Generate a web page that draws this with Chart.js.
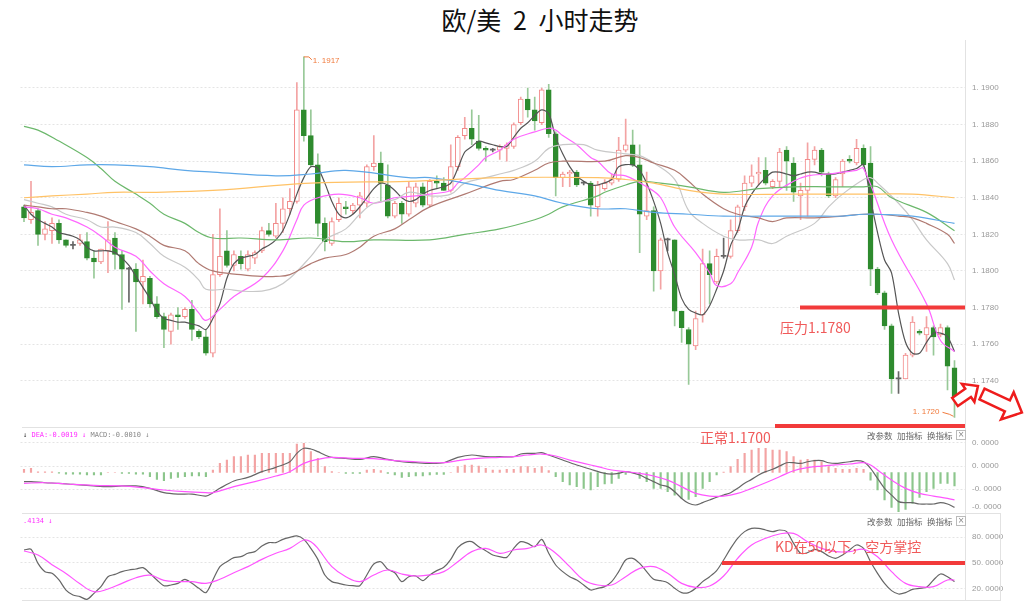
<!DOCTYPE html>
<html lang="zh-CN">
<head>
<meta charset="utf-8">
<title>欧/美 2 小时走势</title>
<script src="https://cdn.jsdelivr.net/npm/chart.js@4.4.1/dist/chart.umd.min.js"></script>
<style>
  html, body { margin: 0; padding: 0; background: #fff; }
  #page { position: relative; width: 1024px; height: 607px; overflow: hidden;
          font-family: "Noto Sans CJK SC", "Noto Sans", sans-serif; }
  canvas { position: absolute; left: 0; }
  .abs { position: absolute; white-space: nowrap; }
  .title { left: 0; width: 1080px; top: 3px; text-align: center; font-size: 25px; line-height: 32px; color: #111; word-spacing: 6px; }
  .note { font-size: 14px; line-height: 18px; color: #f05a5a; }
  .tip { font: 7px "DejaVu Sans Mono", monospace; line-height: 10px; }
  .menu { font-size: 8.5px; line-height: 10px; color: #666; }
  .box { width: 8px; height: 8px; border: 1px solid #bbb; font: 8px "DejaVu Sans"; line-height: 8px; text-align: center; color: #888; }
  .sep { background: #e2e2e2; }
</style>
</head>
<body>
<div id="page">
  <div class="abs title">欧/美 2 小时走势</div>

  <canvas id="main" width="1024" height="388" style="top:40px"></canvas>
  <canvas id="macd" width="1024" height="84" style="top:428px"></canvas>
  <canvas id="kd" width="1024" height="87" style="top:513px"></canvas>

  <!-- 分隔线 -->
  <div class="abs sep" style="left:965px; top:40px; width:1px; height:561px"></div>
  <div class="abs sep" style="left:22px; top:427px; width:943px; height:1px"></div>
  <div class="abs sep" style="left:22px; top:513px; width:978px; height:1px"></div>
  <div class="abs sep" style="left:22px; top:600px; width:978px; height:1px"></div>
  <div class="abs sep" style="left:1000px; top:513px; width:1px; height:88px"></div>

  <!-- 指标标题 -->
  <div class="abs tip" style="left:23px; top:430px">
    <span style="color:#333">↓</span> <span style="color:#ff33ff">DEA:-0.0019 ↓</span> <span style="color:#888">MACD:-0.0010 ↓</span>
  </div>
  <div class="abs tip" style="left:23px; top:516px; color:#ff33ff">.4134 ↓</div>

  <div class="abs menu" style="left:867px; top:430px">改参数</div>
  <div class="abs menu" style="left:897px; top:430px">加指标</div>
  <div class="abs menu" style="left:927px; top:430px">换指标</div>
  <div class="abs box" style="left:956px; top:430px">×</div>
  <div class="abs menu" style="left:867px; top:516px">改参数</div>
  <div class="abs menu" style="left:897px; top:516px">加指标</div>
  <div class="abs menu" style="left:927px; top:516px">换指标</div>
  <div class="abs box" style="left:956px; top:516px">×</div>

  <!-- 标注 -->
  <div class="abs" style="left:775px; top:424px; width:190px; height:4px; background:#f23a3a"></div>
  <div class="abs note" style="left:780px; top:318px">压力1.1780</div>
  <div class="abs note" style="left:700px; top:428px">正常1.1700</div>
  <div class="abs note" style="left:775px; top:537px">KD在50以下，空方掌控</div>

  <svg class="abs" style="left:0; top:0" width="1024" height="607">
    <polygon points="0,-5 16,-5 16,-11 28,0 16,11 16,5 0,5" transform="translate(955,402) rotate(-35)"
             fill="#fff" stroke="#ee1c1c" stroke-width="2.5" stroke-linejoin="miter"/>
    <polygon points="0,-6 28,-6 28,-15 44,0 28,15 28,6 0,6" transform="translate(982,394) rotate(25)"
             fill="#fff" stroke="#ee1c1c" stroke-width="2.5" stroke-linejoin="miter"/>
  </svg>
</div>

<script>
// ===== K线数据（2小时，134根） =====
const opens = [
  1.1835,1.1828,1.1833,1.1820,1.1822,1.1826,1.1817,1.1814,1.1815,1.1816,
  1.1807,1.1805,1.1811,1.1818,1.1809,1.1801,1.1801,1.1794,1.1796,1.1782,
  1.1775,1.1767,1.1776,1.1775,1.1779,1.1767,1.1764,1.1755,1.1798,1.1811,
  1.1803,1.1808,1.1801,1.1807,1.1811,1.1822,1.1819,1.1826,1.1834,1.1838,
  1.1888,1.1874,1.1858,1.1826,1.1815,1.1828,1.1835,1.1833,1.1836,1.1837,
  1.1857,1.1859,1.1847,1.1830,1.1837,1.1831,1.1837,1.1846,1.1836,1.1849,
  1.1848,1.1844,1.1857,1.1874,1.1878,1.1871,1.1867,1.1866,1.1866,1.1867,
  1.1868,1.1881,1.1894,1.1888,1.1881,1.1899,1.1875,1.1851,1.1853,1.1854,
  1.1848,1.1848,1.1835,1.1845,1.1848,1.1850,1.1866,1.1869,1.1858,1.1830,
  1.1833,1.1800,1.1817,1.1817,1.1778,1.1768,1.1759,1.1776,1.1804,1.1794,
  1.1808,1.1808,1.1822,1.1835,1.1848,1.1853,1.1855,1.1846,1.1849,1.1866,
  1.1859,1.1841,1.1844,1.1861,1.1866,1.1853,1.1841,1.1853,1.1861,1.1859,
  1.1867,1.1859,1.1801,1.1788,1.1770,1.1741,1.1741,1.1754,1.1767,1.1765,
  1.1769,1.1765,1.1769,1.1747
];
const highs = [
  1.1836,1.1849,1.1834,1.1827,1.1829,1.1828,1.1817,1.1816,1.1820,1.1821,
  1.1811,1.1812,1.1827,1.1821,1.1811,1.1802,1.1804,1.1806,1.1797,1.1786,
  1.1777,1.1777,1.1780,1.1780,1.1784,1.1768,1.1768,1.1820,1.1834,1.1822,
  1.1811,1.1811,1.1811,1.1811,1.1824,1.1826,1.1837,1.1840,1.1845,1.1903,
  1.1917,1.1888,1.1864,1.1829,1.1829,1.1840,1.1838,1.1837,1.1843,1.1858,
  1.1874,1.1865,1.1858,1.1838,1.1838,1.1849,1.1848,1.1848,1.1850,1.1852,
  1.1851,1.1869,1.1874,1.1884,1.1888,1.1885,1.1868,1.1867,1.1869,1.1870,
  1.1881,1.1895,1.1900,1.1895,1.1900,1.1902,1.1876,1.1854,1.1855,1.1855,
  1.1849,1.1849,1.1849,1.1850,1.1853,1.1873,1.1883,1.1877,1.1869,1.1854,
  1.1835,1.1818,1.1818,1.1817,1.1778,1.1769,1.1778,1.1812,1.1811,1.1812,
  1.1818,1.1828,1.1836,1.1852,1.1858,1.1862,1.1862,1.1850,1.1867,1.1868,
  1.1862,1.1848,1.1870,1.1868,1.1867,1.1854,1.1851,1.1861,1.1863,1.1872,
  1.1869,1.1868,1.1802,1.1789,1.1771,1.1745,1.1755,1.1775,1.1768,1.1775,
  1.1770,1.1771,1.1770,1.1751
];
const lows = [
  1.1827,1.1826,1.1814,1.1817,1.1815,1.1815,1.1813,1.1812,1.1814,1.1806,
  1.1796,1.1804,1.1799,1.1801,1.1779,1.1783,1.1767,1.1782,1.1780,1.1774,
  1.1758,1.1760,1.1768,1.1774,1.1762,1.1763,1.1754,1.1753,1.1797,1.1802,
  1.1800,1.1801,1.1800,1.1804,1.1810,1.1819,1.1818,1.1821,1.1831,1.1837,
  1.1871,1.1857,1.1819,1.1811,1.1814,1.1827,1.1831,1.1831,1.1829,1.1835,
  1.1855,1.1838,1.1829,1.1829,1.1826,1.1830,1.1835,1.1835,1.1835,1.1845,
  1.1844,1.1843,1.1855,1.1872,1.1869,1.1866,1.1860,1.1865,1.1861,1.1860,
  1.1867,1.1880,1.1884,1.1877,1.1880,1.1873,1.1841,1.1846,1.1846,1.1846,
  1.1847,1.1830,1.1830,1.1844,1.1847,1.1849,1.1865,1.1857,1.1810,1.1828,
  1.1789,1.1790,1.1811,1.1770,1.1761,1.1738,1.1757,1.1772,1.1782,1.1793,
  1.1807,1.1807,1.1821,1.1833,1.1846,1.1847,1.1847,1.1845,1.1846,1.1844,
  1.1838,1.1828,1.1830,1.1858,1.1852,1.1840,1.1840,1.1846,1.1859,1.1858,
  1.1857,1.1792,1.1787,1.1768,1.1733,1.1733,1.1741,1.1753,1.1765,1.1756,
  1.1754,1.1764,1.1735,1.1720
];
const closes = [
  1.1829,1.1832,1.1820,1.1823,1.1826,1.1817,1.1814,1.1814,1.1817,1.1807,
  1.1805,1.1812,1.1817,1.1809,1.1801,1.1801,1.1794,1.1797,1.1782,1.1775,
  1.1768,1.1776,1.1775,1.1779,1.1768,1.1764,1.1755,1.1798,1.1808,1.1803,
  1.1809,1.1804,1.1809,1.1810,1.1822,1.1820,1.1826,1.1834,1.1838,1.1888,
  1.1874,1.1858,1.1826,1.1816,1.1827,1.1837,1.1834,1.1836,1.1841,1.1857,
  1.1859,1.1848,1.1830,1.1837,1.1831,1.1846,1.1846,1.1836,1.1849,1.1848,
  1.1844,1.1857,1.1873,1.1878,1.1872,1.1867,1.1866,1.1866,1.1868,1.1869,
  1.1880,1.1894,1.1888,1.1882,1.1899,1.1875,1.1851,1.1853,1.1854,1.1847,
  1.1848,1.1836,1.1847,1.1848,1.1850,1.1866,1.1869,1.1858,1.1831,1.1833,
  1.1800,1.1817,1.1817,1.1778,1.1769,1.1760,1.1774,1.1804,1.1798,1.1808,
  1.1808,1.1822,1.1835,1.1848,1.1852,1.1854,1.1848,1.1849,1.1865,1.1860,
  1.1843,1.1844,1.1861,1.1866,1.1854,1.1841,1.1850,1.1860,1.1860,1.1867,
  1.1858,1.1801,1.1788,1.1770,1.1741,1.1741,1.1754,1.1772,1.1766,1.1769,
  1.1764,1.1769,1.1748,1.1731
];

// ===== 均线 [K线序号, 价格] =====
const ma5 = [
  [0,1.1836],[1,1.1831],[2,1.1828],[3,1.1826],[4,1.1824],[5,1.1821],[6,1.1820],[7,1.1819],[8,1.1817],[9,1.1813],
  [10,1.1811],[11,1.1811],[12,1.1811],[13,1.1810],[14,1.1807],[15,1.1803],[16,1.1797],[17,1.1791],[18,1.1785],[19,1.1778],
  [20,1.1774],[21,1.1773],[22,1.1772],[23,1.1772],[24,1.1771],[25,1.1770],[26,1.1768],[27,1.1774],[28,1.1782],[29,1.1796],
  [30,1.1804],[31,1.1807],[32,1.1808],[33,1.1809],[34,1.1812],[35,1.1814],[36,1.1817],[37,1.1822],[38,1.1831],[39,1.1842],
  [40,1.1851],[41,1.1857],[42,1.1856],[43,1.1848],[44,1.1838],[45,1.1831],[46,1.1829],[47,1.1831],[48,1.1835],[49,1.1840],
  [50,1.1845],[51,1.1848],[52,1.1847],[53,1.1844],[54,1.1840],[55,1.1838],[56,1.1839],[57,1.1842],[58,1.1844],[60,1.1846],
  [61,1.1848],[62,1.1856],[63,1.1865],[64,1.1868],[65,1.1871],[66,1.1870],[67,1.1869],[68,1.1868],[69,1.1868],[70,1.1873],
  [71,1.1878],[72,1.1881],[73,1.1885],[74,1.1888],[75,1.1886],[76,1.1873],[77,1.1864],[78,1.1857],[79,1.1852],[80,1.1849],
  [81,1.1847],[82,1.1847],[84,1.1850],[85,1.1857],[87,1.1858],[88,1.1855],[89,1.1848],[90,1.1838],[91,1.1826],[92,1.1810],
  [93,1.1798],[94,1.1785],[95,1.1779],[96,1.1777],[97,1.1776],[98,1.1781],[99,1.1790],[100,1.1800],[101,1.1814],[102,1.1822],
  [103,1.1835],[104,1.1842],[105,1.1847],[106,1.1851],[107,1.1854],[108,1.1854],[109,1.1853],[110,1.1852],[111,1.1853],[112,1.1854],
  [113,1.1854],[114,1.1853],[115,1.1853],[116,1.1853],[117,1.1854],[118,1.1855],[119,1.1856],[120,1.1858],[121,1.1839],[122,1.1821],
  [123,1.1806],[124,1.1799],[125,1.1777],[126,1.1761],[127,1.1755],[128,1.1755],[129,1.1761],[130,1.1766],[131,1.1766],[132,1.1764],
  [133,1.1756]
];
const ma10 = [
  [0,1.1835],[2,1.1834],[4,1.1831],[6,1.1829],[9,1.1824],[11,1.1819],[13,1.1813],[16,1.1808],[18,1.1800],[20,1.1793],
  [23,1.1786],[25,1.1777],[26,1.1773],[28,1.1779],[30,1.1786],[34,1.1796],[37,1.1811],[39,1.1828],[40,1.1836],[42,1.1840],
  [45,1.1842],[48,1.1840],[50,1.1837],[53,1.1840],[56,1.1841],[58,1.1842],[61,1.1844],[62,1.1848],[63,1.1851],[65,1.1858],
  [66,1.1862],[68,1.1866],[70,1.1872],[73,1.1876],[75,1.1878],[76,1.1877],[77,1.1874],[79,1.1869],[81,1.1862],[82,1.1860],
  [84,1.1853],[86,1.1852],[89,1.1846],[91,1.1840],[93,1.1824],[96,1.1810],[98,1.1799],[99,1.1792],[101,1.1793],[102,1.1799],
  [104,1.1813],[105,1.1827],[107,1.1841],[110,1.1849],[112,1.1852],[115,1.1853],[117,1.1854],[119,1.1855],[120,1.1856],[124,1.1817],
  [129,1.1782],[131,1.1762],[133,1.1756]
];
const ma20 = [
  [0,1.1839],[2,1.1837],[4,1.1835],[6,1.1831],[9,1.1828],[11,1.1824],[13,1.1824],[16,1.1821],[18,1.1815],[20,1.1808],
  [23,1.1802],[25,1.1795],[26,1.1790],[29,1.1790],[31,1.1789],[34,1.1789],[36,1.1791],[38,1.1796],[41,1.1808],[43,1.1817],
  [46,1.1823],[48,1.1831],[50,1.1837],[53,1.1839],[55,1.1843],[58,1.1841],[61,1.1842],[63,1.1848],[66,1.1851],[68,1.1853],
  [70,1.1855],[73,1.1860],[75,1.1867],[77,1.1869],[80,1.1869],[82,1.1866],[86,1.1864],[88,1.1863],[90,1.1859],[93,1.1850],
  [95,1.1833],[97,1.1826],[100,1.1819],[102,1.1817],[105,1.1817],[107,1.1815],[109,1.1819],[113,1.1826],[115,1.1835],[117,1.1842],
  [120,1.1850],[121,1.1851],[122,1.1848],[125,1.1837],[127,1.1828],[129,1.1817],[132,1.1804],[133,1.1795]
];
const ma30 = [
  [0,1.1836],[2,1.1835],[4,1.1834],[6,1.1834],[9,1.1832],[11,1.1830],[13,1.1827],[16,1.1823],[18,1.1819],[20,1.1814],
  [23,1.1811],[25,1.1804],[27,1.1800],[31,1.1798],[34,1.1797],[36,1.1797],[38,1.1798],[41,1.1804],[43,1.1807],[46,1.1809],
  [48,1.1813],[50,1.1819],[53,1.1823],[55,1.1828],[58,1.1835],[63,1.1842],[68,1.1849],[70,1.1850],[73,1.1855],[75,1.1859],
  [77,1.1860],[83,1.1860],[86,1.1863],[88,1.1862],[90,1.1859],[93,1.1855],[95,1.1849],[97,1.1842],[100,1.1834],[102,1.1831],
  [105,1.1829],[107,1.1827],[109,1.1829],[113,1.1829],[117,1.1830],[120,1.1831],[122,1.1831],[125,1.1830],[127,1.1829],[129,1.1826],
  [132,1.1820],[133,1.1815]
];
const ma60 = [
  [0,1.1879],[2,1.1877],[5,1.1871],[9,1.1862],[11,1.1856],[13,1.1849],[16,1.1842],[18,1.1837],[20,1.1831],[23,1.1826],
  [25,1.1821],[27,1.1818],[31,1.1818],[36,1.1817],[41,1.1818],[46,1.1816],[50,1.1817],[58,1.1817],[63,1.1820],[68,1.1823],
  [73,1.1828],[75,1.1831],[77,1.1835],[82,1.1841],[83,1.1843],[86,1.1847],[88,1.1849],[91,1.1848],[95,1.1846],[100,1.1843],
  [105,1.1845],[110,1.1846],[115,1.1846],[120,1.1846],[122,1.1846],[124,1.1840],[129,1.1832],[133,1.1822]
];
const ma120 = [
  [0,1.1858],[4,1.1857],[9,1.1858],[13,1.1858],[18,1.1857],[23,1.1855],[27,1.1854],[36,1.1852],[41,1.1853],[46,1.1855],
  [55,1.1851],[58,1.1851],[63,1.1848],[68,1.1844],[73,1.1841],[77,1.1837],[82,1.1834],[86,1.1834],[90,1.1832],[95,1.1831],
  [100,1.1830],[109,1.1830],[113,1.1830],[117,1.1830],[120,1.1831],[122,1.1831],[127,1.1830],[133,1.1826]
];
const ma250 = [
  [0,1.1840],[4,1.1841],[9,1.1842],[13,1.1843],[18,1.1843],[27,1.1844],[41,1.1848],[55,1.1849],[68,1.1851],[82,1.1851],
  [86,1.1850],[90,1.1848],[95,1.1844],[100,1.1842],[110,1.1842],[122,1.1842],[127,1.1842],[133,1.1840]
];

// ===== MACD（单位 0.0001） =====
const macdBars = [
  2.3,3.0,0.5,0.5,0.5,-0.5,-1.1,-1.1,-1.1,-1.8,
  -1.8,-1.8,0,0,-0.6,-0.6,-1.1,-1.1,-3.0,-4.9,
  -5.8,-4.2,-3.5,-3.0,-2.5,-2.5,-3.0,1.8,6.5,8.9,
  11.3,11.3,12.5,12.5,13.7,13.7,13.7,13.7,13.7,20.4,
  20.8,14.9,10.1,4.2,0.6,0,-0.6,-0.6,-0.6,1.8,
  2.3,1.3,-0.6,-1.8,-3.5,-3.0,-2.5,-2.5,-1.8,-1.3,
  -1.3,0,4.2,5.4,5.4,4.6,3.0,1.8,1.8,2.3,
  2.3,4.2,4.2,3.0,4.2,1.3,-3.0,-6.5,-8.9,-10.1,
  -11.3,-12.5,-10.1,-8.2,-7.7,-4.2,-1.3,0,-4.2,-6.5,
  -11.3,-11.3,-13.7,-16.1,-18.5,-19.2,-17.3,-11.3,-6.5,-1.8,
  0.4,4.2,9.4,13.7,16.1,17.3,17.3,16.1,16.1,14.9,
  11.3,8.9,9.4,8.9,7.7,4.2,3.0,2.3,2.3,3.0,
  2.3,-5.4,-12.5,-19.6,-24.9,-28.0,-26.3,-22.0,-17.7,-13.7,
  -11.3,-7.7,-7.7,-9.6
];
const difLine = [
  [0,-6.5],[1,-6.5],[3,-7.3],[5,-7.7],[7,-8.5],[10,-9.6],[12,-10.1],[14,-9.6],[16,-9.6],[18,-11.3],
  [20,-14.4],[22,-15.4],[24,-15.4],[26,-16.8],[27,-14.4],[28,-11.3],[30,-6.1],[32,-3.5],[34,0.6],[36,3.7],
  [38,7.7],[39,13.7],[40,17.3],[41,16.8],[42,14.9],[43,12.5],[44,10.8],[46,10.1],[48,9.4],[50,11.3],
  [52,9.4],[54,7.7],[56,7.0],[58,6.5],[60,7.0],[62,10.8],[64,12.5],[66,11.3],[68,11.3],[70,11.3],
  [71,13.2],[72,13.7],[73,13.7],[74,14.2],[75,12.5],[77,8.9],[79,5.4],[81,2.3],[83,-0.6],[84,-1.1],
  [85,-0.6],[86,0.6],[88,-1.8],[89,-4.2],[90,-6.5],[91,-8.9],[92,-10.1],[93,-13.7],[94,-18.5],[95,-22.0],
  [96,-23.2],[97,-21.5],[98,-19.6],[99,-17.7],[100,-16.1],[101,-14.4],[102,-11.3],[103,-7.7],[104,-4.9],[105,-1.8],
  [106,0.6],[107,2.3],[108,4.6],[109,7.0],[110,7.0],[111,6.5],[112,7.7],[113,8.5],[114,8.5],[115,7.0],
  [116,6.5],[117,7.0],[118,7.7],[119,8.5],[120,7.7],[121,3.0],[122,-4.2],[123,-11.3],[124,-16.1],[125,-20.8],
  [126,-21.5],[127,-21.5],[128,-22.5],[129,-22.5],[130,-22.5],[131,-21.5],[132,-22.5],[133,-24.9]
];
const deaLine = [
  [0,-7.7],[3,-7.3],[6,-8.2],[10,-9.2],[14,-9.6],[17,-10.8],[20,-12.5],[23,-13.7],[26,-14.4],[27,-14.4],
  [30,-10.1],[33,-6.5],[36,-2.5],[38,0.6],[40,6.5],[42,9.4],[44,10.8],[47,10.1],[50,9.9],[53,8.5],
  [56,7.7],[60,7.0],[62,8.5],[65,10.1],[68,10.8],[70,11.3],[72,12.5],[74,13.2],[76,11.8],[78,8.9],
  [80,6.5],[82,4.2],[84,1.8],[86,0.6],[88,-0.6],[90,-2.5],[92,-5.4],[94,-10.1],[96,-14.9],[98,-16.8],
  [100,-16.8],[102,-14.9],[104,-11.3],[106,-7.3],[108,-3.0],[110,1.3],[112,3.5],[114,4.6],[116,5.4],[118,6.1],
  [120,7.0],[121,5.4],[122,1.8],[124,-5.4],[126,-11.3],[128,-14.9],[130,-16.8],[132,-18.5],[133,-19.6]
];

// ===== KD =====
const kLine = [
  65.0,65.8,49.6,40.0,38.1,30.4,18.8,13.1,11.2,8.1,
  15.0,22.7,34.2,36.9,40.0,41.9,43.1,44.6,38.1,30.4,
  23.8,24.6,26.5,31.2,26.5,20.8,15.8,30.4,45.8,51.5,
  56.2,57.3,61.2,63.1,69.6,73.5,73.5,77.3,79.6,81.2,
  77.3,66.9,54.2,36.2,28.5,26.5,24.6,23.8,23.8,36.2,
  48.8,51.5,42.7,38.8,28.5,34.2,35.0,29.6,36.2,41.2,
  45.0,54.2,67.7,73.5,74.6,68.8,64.2,59.2,57.3,56.5,
  66.9,74.6,72.7,68.8,77.3,61.2,47.7,40.0,34.2,30.4,
  24.6,18.8,20.8,22.7,28.5,40.0,53.5,55.4,49.6,40.0,
  31.2,29.6,27.3,20.8,15.8,15.8,20.8,28.5,34.2,41.2,
  53.5,66.9,78.5,86.2,90.0,90.0,88.1,86.2,88.1,86.2,
  72.7,61.2,61.9,65.8,63.1,58.1,55.4,59.2,65.0,70.8,
  66.9,51.5,38.1,26.5,18.1,14.2,15.8,19.6,20.8,21.9,
  30.4,37.3,34.2,28.5
];
const dLine = [
  [0,63.8],[2,59.2],[4,48.0],[6,38.0],[8,26.0],[10,16.9],[12,20.0],[14,26.5],[16,33.0],[18,36.0],
  [20,30.0],[22,28.5],[24,28.5],[26,26.5],[28,31.2],[30,38.8],[32,45.8],[34,54.2],[36,61.2],[38,66.9],
  [40,76.5],[41,74.6],[42,66.9],[44,45.8],[46,34.2],[48,28.5],[50,36.2],[52,41.9],[54,37.3],[56,35.0],
  [58,36.2],[60,40.0],[62,51.5],[64,63.1],[66,66.9],[68,61.2],[70,65.0],[72,66.9],[74,70.8],[76,61.2],
  [78,45.8],[80,30.4],[82,24.6],[84,24.6],[86,34.2],[88,43.8],[90,45.8],[92,38.1],[94,26.5],[96,21.9],
  [98,23.5],[100,35.0],[102,55.4],[104,70.8],[106,78.5],[108,83.5],[110,84.2],[112,74.6],[114,66.9],[116,63.1],
  [118,63.1],[120,65.8],[122,57.3],[124,40.0],[126,26.5],[128,22.7],[130,22.7],[132,30.4],[133,30.4]
];

// ===== 坐标轴刻度 =====
const priceTicks = [1.1740, 1.1760, 1.1780, 1.1800, 1.1820, 1.1840, 1.1860, 1.1880, 1.1900];
const macdTicks = [21.1, 4.6, -11.8, -24.6];
const macdTickLabels = ['0. 0000', '0. 0000', '-0. 0000', '-0. 0000'];
const kdTicks = [80, 50, 20];
const kdTickLabels = ['80. 0000', '50. 0000', '20. 0000'];
const pressureLevel = 1.1780;
const kdLevel = 50;

// ===== 样式 =====
const AXIS_W = 59;
const PAD_LEFT = 20.5;
const X_MIN = -0.5, X_MAX = 134.5;
const UP = '#f28a8a', UP_WICK = '#f3a3a3';
const DOWN = '#2e8b2e', DOWN_WICK = '#98c998';
const FLAT = '#666666';
const RED_LINE = '#f23a3a';
const tickFont = { family: 'Liberation Sans', size: 8 };

const fmtPrice = v => '1. ' + v.toFixed(4).split('.')[1];
const kind = i => closes[i] > opens[i] ? 'up' : (closes[i] < opens[i] ? 'down' : 'flat');

/**
 * 公共的 x 轴（K线序号）
 */
function xAxis() {
  return { type: 'linear', min: X_MIN, max: X_MAX, offset: false, display: false };
}

/**
 * 右侧 y 轴：固定宽度，不为刻度文字额外留上下空白
 */
function yAxis(min, max, ticks, labelFn, gridFn) {
  return {
    position: 'right', min, max,
    afterBuildTicks: axis => { axis.ticks = ticks.map(v => ({ value: v })); },
    afterFit: axis => {
      axis.width = AXIS_W;
      axis.paddingTop = 0;
      axis.paddingBottom = 0;
    },
    ticks: { autoSkip: false, color: '#999', font: tickFont, padding: 7, callback: labelFn },
    grid: { drawTicks: false, color: gridFn || '#e4e4e4' },
    border: { display: false, dash: [2, 2] }
  };
}

function line(data, color, width, tension) {
  return { type: 'line', data, borderColor: color, borderWidth: width, pointRadius: 0, tension, order: 0 };
}

// 绘图区严格由 padding 决定
function layout(top, bottom) {
  return { autoPadding: false, padding: { left: PAD_LEFT, right: 0, top, bottom } };
}

const baseOptions = {
  responsive: false,
  animation: false,
  events: [],
  plugins: { legend: { display: false }, tooltip: { enabled: false } }
};

// 水平标注线
function levelLine(id, value, xStart) {
  return {
    id,
    afterDatasetsDraw(chart) {
      const { ctx, chartArea, scales: { y } } = chart;
      const py = y.getPixelForValue(value);
      ctx.save();
      ctx.strokeStyle = RED_LINE;
      ctx.lineWidth = 4;
      ctx.beginPath();
      ctx.moveTo(xStart, py);
      ctx.lineTo(chartArea.right, py);
      ctx.stroke();
      ctx.restore();
    }
  };
}

// 最高 / 最低价标记
const extremeLabels = {
  id: 'extremeLabels',
  afterDatasetsDraw(chart) {
    const { ctx, scales: { x, y } } = chart;
    const hi = highs.indexOf(Math.max(...highs));
    const lo = lows.indexOf(Math.min(...lows));
    ctx.save();
    ctx.strokeStyle = '#f07a3c';
    ctx.fillStyle = '#f07a3c';
    ctx.lineWidth = 1;
    ctx.font = '8px "Liberation Sans"';
    ctx.textBaseline = 'middle';

    let px = x.getPixelForValue(hi), py = y.getPixelForValue(highs[hi]);
    ctx.beginPath();
    ctx.moveTo(px, py); ctx.lineTo(px + 5, py); ctx.lineTo(px + 8, py + 3);
    ctx.stroke();
    ctx.fillText(fmtPrice(highs[hi]), px + 9, py + 4);

    px = x.getPixelForValue(lo); py = y.getPixelForValue(lows[lo]);
    ctx.beginPath();
    ctx.moveTo(px - 12, py - 5); ctx.lineTo(px - 5, py - 3); ctx.lineTo(px - 1, py - 1);
    ctx.stroke();
    ctx.textAlign = 'right';
    ctx.fillText(fmtPrice(lows[lo]), px - 15, py - 6);
    ctx.restore();
  }
};

// ===== 主图：K线 + 均线 =====
new Chart(document.getElementById('main'), {
  type: 'bar',
  data: {
    datasets: [
      line(ma250, '#ffc266', 1.2, 0.4),
      line(ma120, '#5ea8e8', 1.2, 0.4),
      line(ma60, '#6cb86c', 1.2, 0.4),
      line(ma30, '#b07a72', 1.2, 0.4),
      line(ma20, '#c8c8c8', 1.2, 0.4),
      line(ma10, '#ff66ff', 1.2, 0.4),
      line(ma5, '#555555', 1.2, 0.3),
      {
        data: opens.map((o, i) => ({ x: i, y: [o, closes[i]] })),
        backgroundColor: opens.map((_, i) => ({ up: '#ffffff', down: DOWN, flat: FLAT })[kind(i)]),
        borderColor: opens.map((_, i) => ({ up: UP, down: DOWN, flat: FLAT })[kind(i)]),
        borderWidth: opens.map((_, i) => kind(i) === 'flat' ? 0 : 1),
        borderSkipped: false,
        barThickness: 5,
        minBarLength: 1,
        grouped: false,
        order: 1
      },
      {
        data: lows.map((l, i) => ({ x: i, y: [l, highs[i]] })),
        backgroundColor: opens.map((_, i) => ({ up: UP_WICK, down: DOWN_WICK, flat: FLAT })[kind(i)]),
        barThickness: 1,
        grouped: false,
        order: 2
      }
    ]
  },
  options: {
    ...baseOptions,
    layout: layout(5, 3),
    scales: {
      x: xAxis(),
      y: yAxis(1.17158, 1.19235, priceTicks, v => fmtPrice(v))
    }
  },
  plugins: [levelLine('pressure', pressureLevel, 800), extremeLabels]
});

// ===== MACD =====
new Chart(document.getElementById('macd'), {
  type: 'bar',
  data: {
    datasets: [
      line(deaLine, '#ff55ff', 1.2, 0.4),
      line(difLine, '#666666', 1.2, 0.3),
      {
        data: macdBars.map((v, i) => ({ x: i, y: v })),
        backgroundColor: macdBars.map(v => v >= 0 ? '#f3a3a3' : '#8cc68c'),
        barThickness: 1.5,
        order: 1
      }
    ]
  },
  options: {
    ...baseOptions,
    layout: layout(0, 0),
    scales: {
      x: xAxis(),
      y: yAxis(-28.2, 31.8, macdTicks, (v, i) => macdTickLabels[i],
        c => c.index < 3 ? '#e4e4e4' : 'rgba(0,0,0,0)')
    }
  }
});

// ===== KD =====
new Chart(document.getElementById('kd'), {
  type: 'line',
  data: {
    datasets: [
      line(dLine, '#ff55ff', 1.2, 0.4),
      line(kLine.map((v, i) => [i, v]), '#666666', 1.2, 0.3)
    ]
  },
  options: {
    ...baseOptions,
    layout: layout(0, 0),
    scales: {
      x: xAxis(),
      y: yAxis(7.3, 107.7, kdTicks, (v, i) => kdTickLabels[i])
    }
  },
  plugins: [levelLine('kd50', kdLevel, 722)]
});
</script>
</body>
</html>
